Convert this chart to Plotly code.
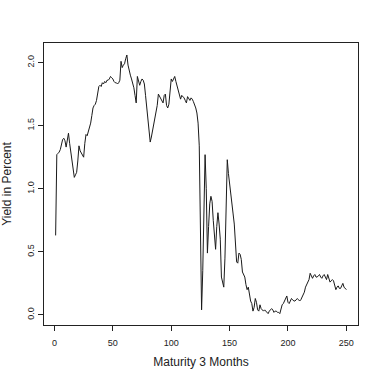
import plotly.graph_objects as go

# Yield series, one value per maturity index 1..250
yield_1_50 = [
    0.63, 1.27, 1.28, 1.29, 1.31, 1.35, 1.39, 1.40, 1.38, 1.33,
    1.40, 1.44, 1.36, 1.29, 1.20, 1.12, 1.09, 1.11, 1.13, 1.22,
    1.34, 1.30, 1.28, 1.27, 1.25, 1.36, 1.43, 1.42, 1.45, 1.49,
    1.52, 1.58, 1.64, 1.66, 1.67, 1.70, 1.77, 1.81, 1.82, 1.81,
    1.84, 1.83, 1.85, 1.84, 1.86, 1.86, 1.87, 1.89, 1.88, 1.87,
]
yield_51_100 = [
    1.85, 1.84, 1.84, 1.83, 1.84, 1.86, 2.01, 1.96, 1.98, 1.99,
    2.03, 2.06, 1.98, 1.93, 1.90, 1.87, 1.84, 1.80, 1.74, 1.68,
    1.89, 1.86, 1.82, 1.85, 1.87, 1.86, 1.83, 1.74, 1.65, 1.56,
    1.45, 1.37, 1.41, 1.46, 1.48, 1.53, 1.58, 1.66, 1.75, 1.73,
    1.71, 1.70, 1.68, 1.74, 1.75, 1.66, 1.64, 1.67, 1.80, 1.87,
]
yield_101_150 = [
    1.85, 1.88, 1.89, 1.85, 1.82, 1.79, 1.74, 1.71, 1.74, 1.73,
    1.72, 1.70, 1.68, 1.73, 1.71, 1.70, 1.72, 1.71, 1.69, 1.67,
    1.64, 1.60, 1.52, 1.34, 0.70, 0.04, 0.35, 0.90, 1.27, 1.00,
    0.49, 0.70, 0.88, 0.94, 0.90, 0.75, 0.60, 0.52, 0.70, 0.81,
    0.72, 0.60, 0.30, 0.25, 0.22, 0.45, 0.95, 1.23, 1.12, 1.05,
]
yield_151_200 = [
    0.98, 0.90, 0.80, 0.72, 0.60, 0.42, 0.41, 0.49, 0.48, 0.44,
    0.34, 0.32, 0.30, 0.24, 0.20, 0.22, 0.15, 0.11, 0.09, 0.03,
    0.06, 0.13, 0.10, 0.04, 0.03, 0.08, 0.05, 0.04, 0.03, 0.04,
    0.03, 0.02, 0.01, 0.03, 0.04, 0.05, 0.04, 0.02, 0.03, 0.03,
    0.02, 0.02, 0.01, 0.05, 0.08, 0.09, 0.11, 0.13, 0.15, 0.10,
]
yield_201_250 = [
    0.09, 0.11, 0.13, 0.12, 0.11, 0.11, 0.12, 0.13, 0.12, 0.11,
    0.12, 0.14, 0.15, 0.18, 0.22, 0.24, 0.25, 0.28, 0.33, 0.31,
    0.29, 0.31, 0.32, 0.30, 0.30, 0.31, 0.32, 0.30, 0.29, 0.31,
    0.32, 0.30, 0.28, 0.32, 0.29, 0.26, 0.27, 0.28, 0.27, 0.22,
    0.20, 0.22, 0.23, 0.21, 0.21, 0.23, 0.25, 0.22, 0.21, 0.20,
]
yields = yield_1_50 + yield_51_100 + yield_101_150 + yield_151_200 + yield_201_250
maturity = list(range(1, len(yields) + 1))

x_ticks = [0, 50, 100, 150, 200, 250]
y_ticks = [0.0, 0.5, 1.0, 1.5, 2.0]

fig = go.Figure()
fig.add_trace(go.Scatter(
    x=maturity, y=yields, mode="lines",
    line=dict(color="#1a1a1a", width=1),
    showlegend=False,
))

font = "Liberation Sans, Arial, Helvetica, sans-serif"
fig.update_layout(
    width=381, height=381,
    margin=dict(l=44, r=23, t=43, b=56),
    paper_bgcolor="white", plot_bgcolor="white",
    font=dict(family=font, color="#222", size=9),
)
fig.update_xaxes(
    range=[-8.96, 259.96], tickvals=x_ticks, automargin=False,
    showline=True, mirror=True, linecolor="#222", linewidth=1,
    ticks="outside", ticklen=5, tickcolor="#222",
    showgrid=False, zeroline=False, ticklabelstandoff=4,
    title=dict(text="Maturity 3 Months", font=dict(size=12), standoff=10),
)
fig.update_yaxes(
    range=[-0.08, 2.155], tickvals=y_ticks, tickformat=".1f", tickangle=-90,
    automargin=False,
    showline=True, mirror=True, linecolor="#222", linewidth=1,
    ticks="outside", ticklen=5, tickcolor="#222",
    showgrid=False, zeroline=False,
    title=dict(text="Yield in Percent", font=dict(size=12), standoff=13),
)

# drop the browser's default page margin so the figure sits at 0,0
fig.write_html(
    "out.html",
    config={"displayModeBar": False},
    post_script="document.body.style.margin='0';",
)
